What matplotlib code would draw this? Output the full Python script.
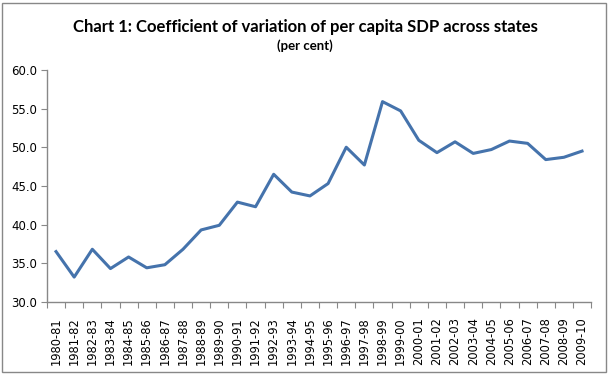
import matplotlib
matplotlib.use('Agg')
import matplotlib.pyplot as plt
from matplotlib.patches import Rectangle

years = ["1980-81", "1981-82", "1982-83", "1983-84", "1984-85", "1985-86",
         "1986-87", "1987-88", "1988-89", "1989-90", "1990-91", "1991-92",
         "1992-93", "1993-94", "1994-95", "1995-96", "1996-97", "1997-98",
         "1998-99", "1999-00", "2000-01", "2001-02", "2002-03", "2003-04",
         "2004-05", "2005-06", "2006-07", "2007-08", "2008-09", "2009-10"]
cv = [36.5, 33.2, 36.8, 34.3, 35.8, 34.4, 34.8, 36.8, 39.3, 39.9,
      42.9, 42.3, 46.5, 44.2, 43.7, 45.3, 50.0, 47.7, 55.9, 54.7,
      50.9, 49.3, 50.7, 49.2, 49.7, 50.8, 50.5, 48.4, 48.7, 49.5]
yticks = [30.0, 35.0, 40.0, 45.0, 50.0, 55.0, 60.0]

fig = plt.figure(figsize=(6.1, 3.74), dpi=100)
ax = fig.add_axes([0.077, 0.193, 0.892, 0.62])

x = range(len(years))
ax.plot(x, cv, color='#4573AC', linewidth=2.2)

ax.set_xlim(-0.5, len(years) - 0.5)
ax.set_ylim(30, 60)
ax.set_yticks(yticks)
ax.set_yticklabels([f"{v:.1f}" for v in yticks], fontsize=8.5, family='DejaVu Sans')
ax.set_xticks([i - 0.5 for i in range(len(years) + 1)], minor=False)
ax.set_xticklabels([])
ax.set_xticks(list(x), minor=True)
ax.set_xticklabels(years, minor=True, rotation=90, fontsize=8.3, family='DejaVu Sans')
ax.tick_params(axis='x', which='minor', length=0, pad=11)
ax.tick_params(axis='x', which='major', length=4, color='#888888', direction='out')
ax.tick_params(axis='y', length=4, color='#888888', direction='out', pad=3)

for s in ['top', 'right']:
    ax.spines[s].set_visible(False)
for s in ['left', 'bottom']:
    ax.spines[s].set_color('#888888')
    ax.spines[s].set_linewidth(1.0)

fig.text(0.5, 0.928, "Chart 1: Coefficient of variation of per capita SDP across states",
         ha='center', va='center', fontsize=12, fontweight='bold', family='Lato')
fig.text(0.5, 0.877, "(per cent)", ha='center', va='center', fontsize=9.5,
         fontweight='bold', family='Lato')

fig.patches.append(Rectangle((0.004, 0.006), 0.99, 0.986, transform=fig.transFigure,
                             fill=False, edgecolor='#888888', linewidth=1.0))

plt.savefig("out.png")
plt.close()
